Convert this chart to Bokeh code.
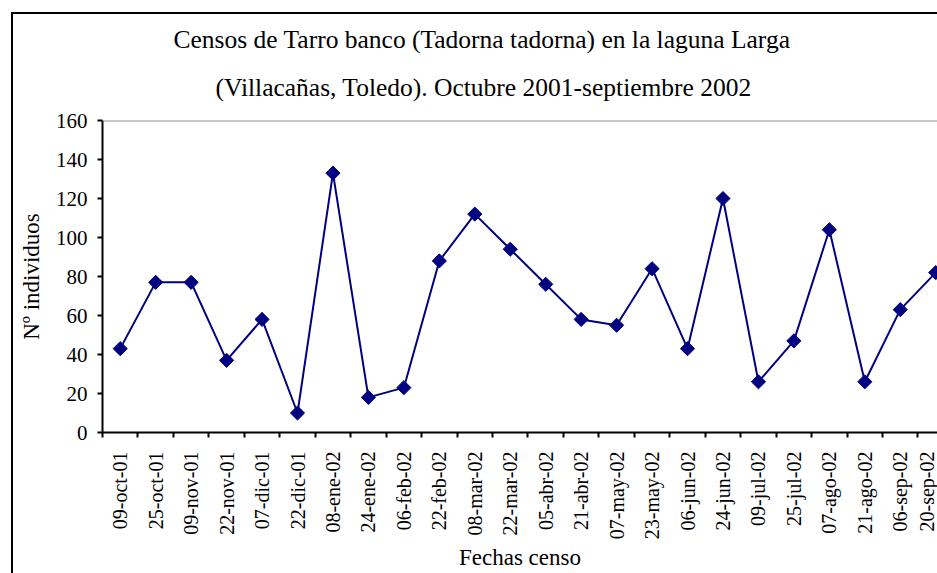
import math
from bokeh.plotting import figure
from bokeh.models import (Range1d, FixedTicker, LinearAxis, Title, Span, ColumnDataSource)
from bokeh.embed import file_html
from bokeh.resources import INLINE

dates = ["09-oct-01", "25-oct-01", "09-nov-01", "22-nov-01", "07-dic-01", "22-dic-01",
         "08-ene-02", "24-ene-02", "06-feb-02", "22-feb-02", "08-mar-02", "22-mar-02",
         "05-abr-02", "21-abr-02", "07-may-02", "23-may-02", "06-jun-02", "24-jun-02",
         "09-jul-02", "25-jul-02", "07-ago-02", "21-ago-02", "06-sep-02", "20-sep-02"]
counts = [43, 77, 77, 37, 58, 10, 133, 18, 23, 88, 112, 94,
          76, 58, 55, 84, 43, 120, 26, 47, 104, 26, 63, 82]
y_ticks = [0, 20, 40, 60, 80, 100, 120, 140, 160]

title_1 = "Censos de Tarro banco (Tadorna tadorna) en la laguna Larga"
title_2 = "(Villacañas, Toledo). Octubre 2001-septiembre 2002"
x_title = "Fechas censo"
y_title = "Nº individuos"

FONT = "Liberation Serif"
NAVY = "#000080"

idx = list(range(len(dates)))
src = ColumnDataSource(data=dict(x=idx, y=counts))

p = figure(width=937, height=573, output_backend="svg", toolbar_location=None,
           x_range=Range1d(-0.5, 23.05), y_range=Range1d(0, 160),
           x_axis_type=None, y_axis_type=None,
           min_border_left=102, min_border_right=0, min_border_top=120, min_border_bottom=141)
p.outline_line_color = None
p.background_fill_color = "white"
p.border_fill_color = None
# outer chart frame (left and top edges) drawn behind the transparent border area
p.styles = {
    "background-color": "white",
    "background-image": "linear-gradient(black, black), linear-gradient(black, black)",
    "background-position": "11px 12px, 11px 12px",
    "background-size": "2px 100%, 100% 2px",
    "background-repeat": "no-repeat, no-repeat",
}

# titles (first added is closest to the plot)
t2 = Title(text=title_2, align="left", offset=113, text_font=FONT, text_font_size="25.5px",
           text_font_style="normal", text_color="black", standoff=38)
t1 = Title(text=title_1, align="left", offset=71, text_font=FONT, text_font_size="25.5px",
           text_font_style="normal", text_color="black", standoff=-4)
p.add_layout(t2, "above")
p.add_layout(t1, "above")

# x axis
xaxis = LinearAxis(ticker=FixedTicker(ticks=idx, minor_ticks=[i - 0.5 for i in range(len(dates) + 1)]),
                   major_label_overrides={i: d for i, d in enumerate(dates)})
xaxis.major_label_orientation = math.pi / 2
xaxis.major_tick_out = 0
xaxis.major_tick_in = 0
xaxis.minor_tick_out = 5
xaxis.minor_tick_in = 0
xaxis.minor_tick_line_color = "black"
xaxis.minor_tick_line_width = 2
xaxis.axis_line_color = "black"
xaxis.axis_line_width = 2
xaxis.major_label_text_font = FONT
xaxis.major_label_text_font_size = "20px"
xaxis.major_label_text_color = "black"
xaxis.major_label_standoff = 14
xaxis.axis_label = x_title
xaxis.axis_label_text_font = FONT
xaxis.axis_label_text_font_size = "23px"
xaxis.axis_label_text_font_style = "normal"
xaxis.axis_label_text_color = "black"
xaxis.axis_label_standoff = 3
p.add_layout(xaxis, "below")

# y axis
yaxis = LinearAxis(ticker=FixedTicker(ticks=y_ticks, minor_ticks=[]))
yaxis.major_tick_out = 5
yaxis.major_tick_in = 0
yaxis.major_tick_line_width = 2
yaxis.major_tick_line_color = "black"
yaxis.axis_line_color = "black"
yaxis.axis_line_width = 2
yaxis.major_label_text_font = FONT
yaxis.major_label_text_font_size = "21px"
yaxis.major_label_text_color = "black"
yaxis.major_label_standoff = 10
yaxis.axis_label = y_title
yaxis.axis_label_text_font = FONT
yaxis.axis_label_text_font_size = "23px"
yaxis.axis_label_text_font_style = "normal"
yaxis.axis_label_text_color = "black"
yaxis.axis_label_standoff = 9
p.add_layout(yaxis, "left")

# grid
p.ygrid.ticker = FixedTicker(ticks=y_ticks[1:-1])
p.ygrid.grid_line_color = "black"
p.ygrid.grid_line_width = 1
p.xgrid.visible = False
p.add_layout(Span(location=160, dimension="width", line_color="#8c8c8c", line_width=2))

p.line("x", "y", source=src, line_color=NAVY, line_width=2)
p.scatter("x", "y", source=src, marker="square", angle=math.pi / 4, size=10,
          fill_color=NAVY, line_color=NAVY)

open("out.html", "w").write(file_html(p, INLINE))
